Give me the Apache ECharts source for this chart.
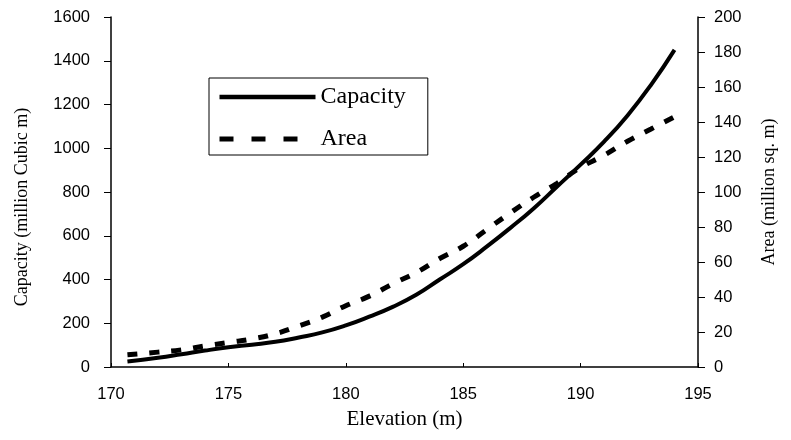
<!DOCTYPE html>
<html><head><meta charset="utf-8">
<script src="https://cdn.jsdelivr.net/npm/echarts@6/dist/echarts.min.js"></script>
<style>html,body{margin:0;padding:0;background:#fff}#c{width:791px;height:440px}</style>
</head><body><div id="c"></div>
<script>
const elevation = [170.7, 172, 173, 174, 175, 176, 177, 178, 179, 180, 181, 182, 183, 184, 185, 186, 187, 188, 189, 190, 191, 192, 193, 194];
const capacity  = [25, 42, 58, 75, 90, 102, 115, 135, 158, 190, 230, 275, 330, 400, 470, 550, 635, 725, 825, 925, 1030, 1150, 1290, 1450];
const area      = [7, 8.5, 9.8, 12, 14, 16, 19, 23.5, 28.5, 35, 40.5, 47.5, 54, 62, 69, 78.5, 88, 97, 105, 114, 121, 129, 136, 143];
const xTicks = [170, 175, 180, 185, 190, 195];

const chart = echarts.init(document.getElementById('c'), null, {renderer: 'canvas'});
const lab = {color: '#000', fontFamily: 'Liberation Sans, Arial', fontSize: 16.5};
const serif = 'Liberation Serif, Times New Roman';
chart.setOption({
  animation: false,
  backgroundColor: '#fff',
  grid: {left: 111, right: 93, top: 17, bottom: 73},
  legend: {
    left: 209, top: 78, orient: 'vertical',
    borderColor: '#000', borderWidth: 1, padding: [7, 22, 4, 8],
    itemWidth: 96, itemHeight: 14, itemGap: 18,
    itemStyle: {opacity: 0},
    textStyle: {color: '#000', fontFamily: serif, fontSize: 24},
    data: [
      {name: 'Capacity', lineStyle: {width: 4.5, type: 'solid', color: '#000'}},
      {name: 'Area', lineStyle: {width: 5, type: [14, 18], color: '#000'}}
    ]
  },
  xAxis: {
    type: 'value', min: 170, max: 195, interval: 5,
    name: 'Elevation (m)', nameLocation: 'middle', nameGap: 42,
    nameTextStyle: {color: '#000', fontFamily: serif, fontSize: 21},
    axisLine: {lineStyle: {color: '#000', width: 1.5}},
    axisTick: {inside: true, length: 4, lineStyle: {color: '#000'}},
    axisLabel: Object.assign({margin: 19, formatter: v => xTicks.includes(v) ? String(v) : ''}, lab),
    splitLine: {show: false}
  },
  yAxis: [{
    type: 'value', min: 0, max: 1600, interval: 200,
    name: 'Capacity (million Cubic m)', nameLocation: 'middle', nameGap: 80,
    nameTextStyle: {color: '#000', fontFamily: serif, fontSize: 18, padding: [0, 30, 0, 0]},
    axisLine: {show: true, lineStyle: {color: '#000', width: 1.5}},
    axisTick: {show: true, length: 7, lineStyle: {color: '#000'}},
    axisLabel: Object.assign({margin: 21, formatter: v => String(v)}, lab),
    splitLine: {show: false}
  }, {
    type: 'value', min: 0, max: 200, interval: 20, position: 'right',
    name: 'Area (million sq. m)', nameLocation: 'middle', nameGap: 62, nameRotate: 90,
    nameTextStyle: {color: '#000', fontFamily: serif, fontSize: 18},
    axisLine: {show: true, lineStyle: {color: '#000', width: 1.5}},
    axisTick: {show: true, length: 7, lineStyle: {color: '#000'}},
    axisLabel: Object.assign({margin: 16, formatter: v => String(v)}, lab),
    splitLine: {show: false}
  }],
  series: [{
    name: 'Capacity', type: 'line', yAxisIndex: 0, smooth: true, symbol: 'none',
    data: elevation.map((e, i) => [e, capacity[i]]),
    lineStyle: {color: '#000', width: 4},
    itemStyle: {color: '#000'}
  }, {
    name: 'Area', type: 'line', yAxisIndex: 1, smooth: true, symbol: 'none',
    data: elevation.map((e, i) => [e, area[i]]),
    lineStyle: {color: '#000', width: 5, type: [10, 12]},
    itemStyle: {color: '#000'}
  }]
});
</script></body></html>
